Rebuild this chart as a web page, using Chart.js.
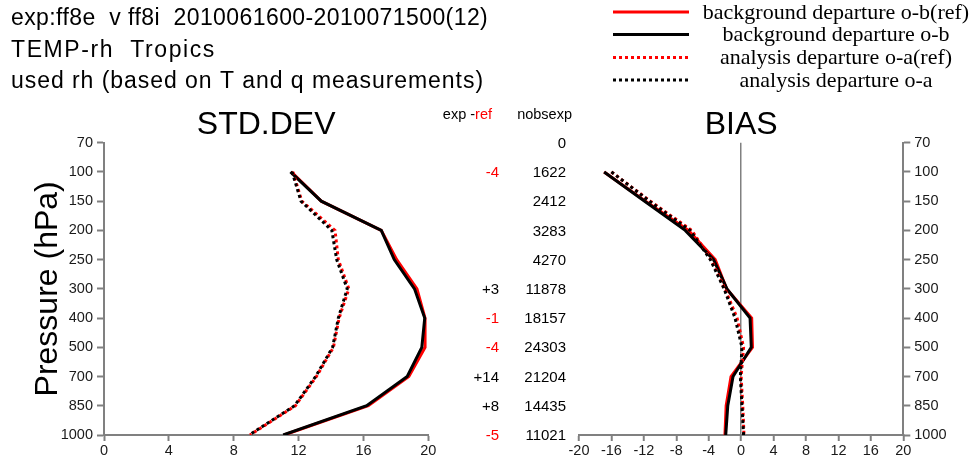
<!DOCTYPE html>
<html>
<head>
<meta charset="utf-8">
<script src="https://cdn.jsdelivr.net/npm/chart.js@4.4.1/dist/chart.umd.min.js"></script>
<style>
  html, body { margin: 0; padding: 0; background: #fff; }
  #wrap { position: relative; width: 974px; height: 461px; }
  #wrap canvas { position: absolute; left: 0; top: 0; }
</style>
</head>
<body>
<div id="wrap">
  <canvas id="stdChart" width="974" height="461"></canvas>
  <canvas id="biasChart" width="974" height="461"></canvas>
</div>
<script>
// pressure levels, top to bottom
const pressures = [70, 100, 150, 200, 250, 300, 400, 500, 700, 850, 1000];
const nobsExp = [0, 1622, 2412, 3283, 4270, 11878, 18157, 24303, 21204, 14435, 11021];
const expMinusRef = [null, -4, null, null, null, 3, -1, -4, 14, 8, -5];

const seriesNames = [
    "background departure o-b(ref)",
    "background departure o-b",
    "analysis departure o-a(ref)",
    "analysis departure o-a"
];

// STD.DEV profiles
const stdObRef = [null, 11.55, 13.4, 17.1, 18.05, 19.3, 19.8, 19.8, 18.8, 16.3, 11.1];
const stdOb    = [null, 11.5, 13.4, 17.1, 17.9, 19.15, 19.78, 19.6, 18.7, 16.2, 11.05];
const stdOaRef = [null, 11.65, 12.2, 14.25, 14.45, 15.1, 14.5, 14.15, 13.1, 11.8, 9.0];
const stdOa    = [null, 11.6, 12.15, 14.05, 14.35, 15.0, 14.45, 14.1, 13.05, 11.75, 8.95];

// BIAS profiles
const biasObRef = [null, -16.9, -11.8, -6.5, -3.2, -1.8, 1.3, 1.4, -1.25, -1.85, -2.0];
const biasOb    = [null, -16.9, -11.9, -6.9, -3.4, -1.75, 1.1, 1.25, -1.0, -1.65, -1.9];
const biasOaRef = [null, -16.0, -11.2, -6.1, -3.7, -2.0, -0.5, 0.3, 0.0, 0.2, 0.35];
const biasOa    = [null, -16.0, -11.3, -6.3, -3.8, -2.1, -0.75, 0.1, -0.1, 0.1, 0.3];

const headerLines = [
    "exp:ff8e  v ff8i  2010061600-2010071500(12)",
    "TEMP-rh  Tropics",
    "used rh (based on T and q measurements)"
];
// right end of each header line in the reference
const headerEnds = [488, 216, 484];

const SANS = "'Liberation Sans', Arial, sans-serif";
const SERIF = "'Liberation Serif', 'Times New Roman', serif";
const axisGrey = "#808080";
const tickFont = { family: SANS, size: 14.5 };

// chart area edges in page pixels
const areaTop = 142.7;
const areaBottom = 435;
const titleLineHeight = 1.1;
const titleSize = 32;
const titleBlock = titleSize * titleLineHeight;

const profile = (values) => values.map((v, i) => ({ x: v, y: i })).filter(p => p.x !== null);

const makeDatasets = (series) => series.map((vals, k) => ({
    label: seriesNames[k],
    data: profile(vals),
    borderColor: k % 2 === 0 ? "#ff0000" : "#000000",
    borderWidth: 3,
    borderDash: k < 2 ? [] : [3, 3],
    pointRadius: 0,
    tension: 0,
    fill: false,
    order: 3 - k
}));

// force the axis box size so the plot areas land where the reference has them
const fixWidth = (w) => (scale) => {
    scale.width = w;
    scale.paddingTop = 0;
    scale.paddingBottom = 0;
};
const fixHeight = (h) => (scale) => {
    scale.height = h;
    scale.paddingLeft = 0;
    scale.paddingRight = 0;
};

const levelAxis = (position, width, extra) => ({
    type: "linear",
    position: position,
    reverse: true,
    min: 0,
    max: pressures.length - 1,
    afterFit: fixWidth(width),
    border: { display: true, color: axisGrey, width: 2 },
    grid: { drawOnChartArea: false, drawTicks: true, tickLength: 7, tickColor: axisGrey, tickWidth: 2 },
    ticks: {
        stepSize: 1,
        autoSkip: false,
        padding: 4,
        color: "#1a1a1a",
        font: tickFont,
        callback: (v) => pressures[v]
    },
    ...extra
});

const valueAxis = (min, max, extraGrid) => ({
    type: "linear",
    position: "bottom",
    min: min,
    max: max,
    afterFit: fixHeight(461 - areaBottom),
    border: { display: true, color: axisGrey, width: 2 },
    grid: { drawOnChartArea: false, drawTicks: true, tickLength: 6, tickColor: axisGrey, tickWidth: 2, ...extraGrid },
    ticks: {
        stepSize: 4,
        autoSkip: false,
        maxRotation: 0,
        padding: 1,
        color: "#1a1a1a",
        font: tickFont
    }
});

// fullSize false keeps the title centred over the plot area
const panelTitle = (text) => ({
    display: true,
    text: text,
    fullSize: false,
    color: "#000",
    font: { family: SANS, size: titleSize, weight: "normal", lineHeight: titleLineHeight },
    padding: 0
});

// header text, top left
const headerPlugin = {
    id: "headerText",
    afterDraw: (chart) => {
        const { ctx } = chart;
        ctx.save();
        ctx.fillStyle = "#000";
        ctx.font = "23px " + SANS;
        ctx.textAlign = "left";
        ctx.textBaseline = "alphabetic";
        headerLines.forEach((line, i) => {
            ctx.letterSpacing = "0px";
            const natural = ctx.measureText(line).width;
            const spacing = Math.max(0, (headerEnds[i] - 11 - natural) / line.length);
            ctx.letterSpacing = spacing.toFixed(2) + "px";
            ctx.fillText(line, 11, 25 + i * 31.5);
        });
        ctx.letterSpacing = "0px";
        ctx.restore();
    }
};

// legend (top right) and the exp-ref / nobsexp columns
const sidePlugin = {
    id: "sideText",
    afterDraw: (chart) => {
        const { ctx } = chart;
        const yScale = chart.scales.y;
        ctx.save();

        // legend
        const legendY = [12, 34.5, 57.5, 80];
        chart.data.datasets.forEach((ds, k) => {
            const y = legendY[k];
            ctx.strokeStyle = ds.borderColor;
            ctx.lineWidth = ds.borderWidth;
            ctx.setLineDash(ds.borderDash);
            ctx.beginPath();
            ctx.moveTo(613, y);
            ctx.lineTo(689, y);
            ctx.stroke();
            ctx.setLineDash([]);
            ctx.fillStyle = "#000";
            ctx.font = "22px " + SERIF;
            ctx.textAlign = "center";
            ctx.textBaseline = "middle";
            ctx.fillText(ds.label, 836, y + 1);
        });

        // column headers
        ctx.font = "14.5px " + SANS;
        ctx.textBaseline = "middle";
        ctx.textAlign = "right";
        ctx.fillStyle = "#000";
        ctx.fillText("nobsexp", 572, 115);
        ctx.fillStyle = "#ff0000";
        ctx.fillText("ref", 492, 115);
        const refW = ctx.measureText("ref").width;
        ctx.fillStyle = "#000";
        ctx.fillText("exp -", 492 - refW, 115);

        // per level numbers
        ctx.font = "15px " + SANS;
        pressures.forEach((p, i) => {
            const y = yScale.getPixelForValue(i) + 1;
            ctx.fillStyle = "#000";
            ctx.fillText(String(nobsExp[i]), 566, y);
            const d = expMinusRef[i];
            if (d !== null) {
                ctx.fillStyle = d < 0 ? "#ff0000" : "#000";
                ctx.fillText((d > 0 ? "+" : "") + d, 499, y);
            }
        });
        ctx.restore();
    }
};

const stdChart = new Chart(document.getElementById("stdChart"), {
    type: "line",
    data: { datasets: makeDatasets([stdObRef, stdOb, stdOaRef, stdOa]) },
    options: {
        responsive: false,
        animation: false,
        indexAxis: "y",
        layout: { padding: { left: 0, right: 974 - 428.3, top: areaTop - titleBlock, bottom: 0 } },
        plugins: {
            legend: { display: false },
            tooltip: { enabled: false },
            title: panelTitle("STD.DEV")
        },
        scales: {
            x: valueAxis(0, 20, {}),
            y: levelAxis("left", 104, {
                title: {
                    display: true,
                    text: "Pressure (hPa)",
                    color: "#000",
                    font: { family: SANS, size: 32, lineHeight: 1.2 },
                    padding: { top: 29, bottom: 0 }
                }
            })
        }
    },
    plugins: [headerPlugin]
});

const biasChart = new Chart(document.getElementById("biasChart"), {
    type: "line",
    data: { datasets: makeDatasets([biasObRef, biasOb, biasOaRef, biasOa]) },
    options: {
        responsive: false,
        animation: false,
        indexAxis: "y",
        layout: { padding: { left: 579, right: 0, top: areaTop - titleBlock, bottom: 0 } },
        plugins: {
            legend: { display: false },
            tooltip: { enabled: false },
            title: panelTitle("BIAS")
        },
        scales: {
            x: valueAxis(-20, 20, {
                drawOnChartArea: true,
                color: (c) => (c.tick && c.tick.value === 0 ? axisGrey : "rgba(0,0,0,0)"),
                lineWidth: 1.5
            }),
            y: levelAxis("right", 974 - 903.3, {})
        }
    },
    plugins: [sidePlugin]
});
</script>
</body>
</html>
